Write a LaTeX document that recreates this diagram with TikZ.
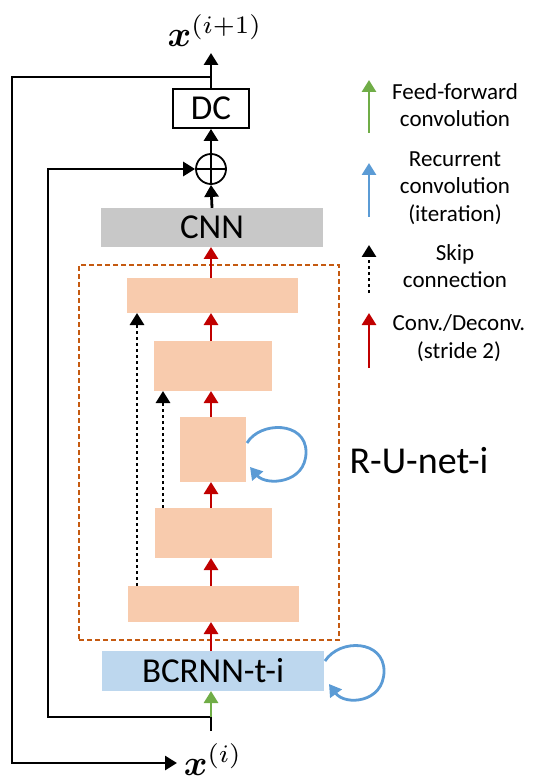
\documentclass[tikz,border=0pt]{standalone}
\usepackage{amsmath}
\usepackage{fontspec}
\setmainfont{Carlito}
\usetikzlibrary{arrows.meta}
\definecolor{blockor}{HTML}{F8CBAD}
\definecolor{redarr}{HTML}{C00000}
\definecolor{dashor}{HTML}{C55A11}
\definecolor{bluearr}{HTML}{5B9BD5}
\definecolor{greenarr}{HTML}{70AD47}
\definecolor{cnngray}{HTML}{C8C8C8}
\definecolor{bcblue}{HTML}{BDD7EE}
\tikzset{
  blk/.style={fill=blockor, inner sep=0pt},
  tipk/.style={-{Triangle[width=14pt,length=12pt]}},
  blackarr/.style={tipk, line width=2.8pt, black},
  redline/.style={tipk, line width=2.8pt, redarr},
  skipline/.style={tipk, line width=2.8pt, black, dash pattern=on 3pt off 3pt},
  loopline/.style={tipk, line width=2.8pt, bluearr},
  bigtxt/.style={font=\fontsize{35}{40}\selectfont},
  legtxt/.style={font=\fontsize{23}{27.5}\selectfont, align=center},
}
\begin{document}
\begin{tikzpicture}[x=1pt,y=-1pt]
\useasboundingbox (0,0) rectangle (534,783);
% labels
\node (xout) at (215,31) {\scalebox{3.6}{$\boldsymbol{x}^{(i+1)}$}};
\node (xin) at (213,760) {\scalebox{3.6}{$\boldsymbol{x}^{(i)}$}};
% DC
\node[draw, line width=1.8pt, minimum width=76pt, minimum height=39pt, inner sep=0pt, bigtxt] (dc) at (211,108.5) {DC};
% sum
\node[draw, circle, line width=1.8pt, minimum size=30pt, inner sep=0pt] (sum) at (211,169) {};
\draw[line width=1.8pt] (sum.north) -- (sum.south) (sum.west) -- (sum.east);
% CNN
\node[fill=cnngray, minimum width=222pt, minimum height=39pt, inner sep=0pt, bigtxt] (cnn) at (212,227.5) {CNN};
% dashed box
\node[draw=dashor, dash pattern=on 5pt off 3pt, line width=2.2pt, minimum width=260pt, minimum height=375pt, inner sep=0pt] (rbox) at (209,452.5) {};
\node[font=\fontsize{38}{44}\selectfont] (rlab) at (419,461) {R-U-net-i};
% blocks
\node[blk, minimum width=171pt, minimum height=35pt] (b1) at (212.5,295.5) {};
\node[blk, minimum width=118pt, minimum height=50pt] (b2) at (213,366) {};
\node[blk, minimum width=66pt, minimum height=65pt] (b3) at (213,449.5) {};
\node[blk, minimum width=117pt, minimum height=50pt] (b4) at (213.5,533) {};
\node[blk, minimum width=171pt, minimum height=36pt] (b5) at (213.5,604) {};
% BCRNN
\node[fill=bcblue, minimum width=222pt, minimum height=40pt, inner sep=0pt, bigtxt] (bc) at (213,671) {BCRNN-t-i};
% coordinates
\coordinate (xtop) at (211,53);
\coordinate (j1) at (211,77);
\coordinate (ol) at (12,77);
\coordinate (ob) at (12,763);
\coordinate (xtip) at (177,763);
\coordinate (il) at (48,169);
\coordinate (ib) at (48,717);
\coordinate (j2) at (211,717);
\coordinate (gstart) at (211,731);
% main arrows
\draw[blackarr] (dc.north) -- (xtop);
\draw[line width=2.8pt] (j1) -- (ol) -- (ob) -- (160,763);
\draw[blackarr] (160,763) -- (xtip);
\draw[blackarr] (sum.north) -- (dc.south);
\draw[blackarr] (cnn.north) -- (sum.south);
\draw[line width=2.8pt] (j2) -- (ib) -- (il) -- (175,169);
\draw[blackarr] (175,169) -- (sum.west);
\draw[greenarr, line width=2.8pt, tipk] (gstart) -- (211,691);
\draw[line width=2.8pt] (j2) -- (gstart);
% red arrows
\draw[redline] (211,651) -- (211,622);
\draw[redline] (211,586) -- (211,558);
\draw[redline] (211,508) -- (211,482);
\draw[redline] (211,417) -- (211,391);
\draw[redline] (211,341) -- (211,313);
\draw[redline] (211,278) -- (211,247);
% skip
\draw[skipline] (137,586) -- (137,313);
\draw[skipline] (163,508) -- (163,391);
% loops
\draw[loopline] (325,661) .. controls (340,638) and (384,640) .. (384,671) .. controls (384,703) and (345,706) .. (329,684);
\draw[loopline] (247,443) .. controls (260,421) and (306,421) .. (306,452) .. controls (306,484) and (266,486) .. (250,467);
% legend
\draw[tipk, line width=2.8pt, greenarr] (369,133) -- (369,80);
\node[legtxt] (lg1) at (455,105) {Feed-forward\\convolution};
\draw[tipk, line width=2.8pt, bluearr] (369,217) -- (369,163);
\node[legtxt] (lg2) at (455,188) {Recurrent\\convolution\\(iteration)};
\draw[skipline] (369,293) -- (369,245);
\node[legtxt] (lg3) at (455,266) {Skip\\connection};
\draw[redline] (369,368) -- (369,313);
\node[legtxt] (lg4) at (459,338) {Conv./Deconv.\\(stride 2)};
\end{tikzpicture}
\end{document}
